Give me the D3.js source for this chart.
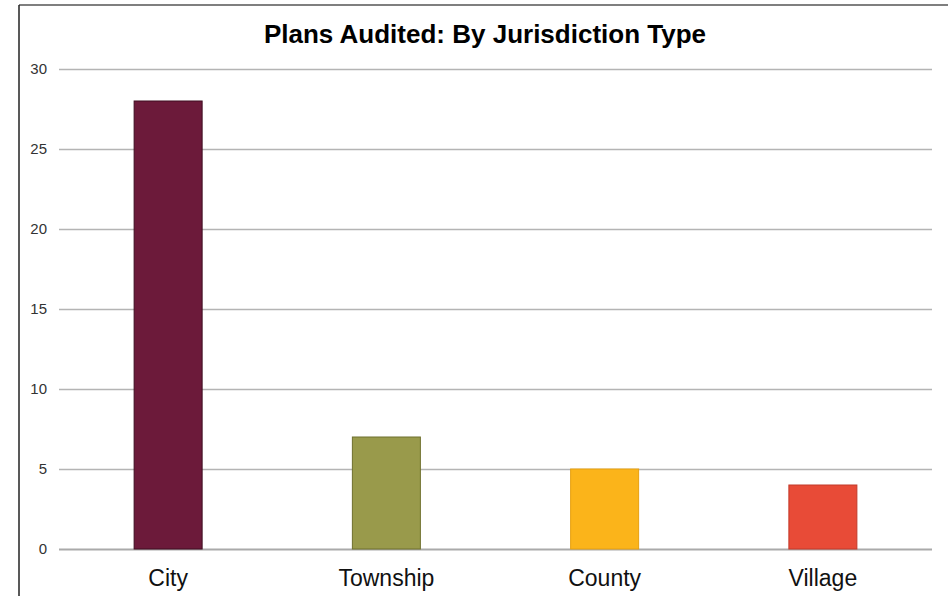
<!DOCTYPE html>
<html>
<head>
<meta charset="utf-8">
<script src="https://cdn.jsdelivr.net/npm/d3@7"></script>
<style>
	body { margin: 0; background: #fff; }
	#graphic { width: 948px; height: 596px; }
	.y.axis text { font-family: "Liberation Sans", Arial, sans-serif; font-size: 15px; fill: #333; }
	.x.axis text { font-family: "Liberation Sans", Arial, sans-serif; font-size: 23px; fill: #111; }
	.title { font-family: "Liberation Sans", Arial, sans-serif; font-size: 26px; font-weight: bold; fill: #000; }
</style>
</head>
<body>
<div id="graphic"></div>
<script>
const categories = ['City', 'Township', 'County', 'Village'];
const values = [28, 7, 5, 4];
const yTicks = [0, 5, 10, 15, 20, 25, 30];
const colours = ['#6c1a3a', '#999a4b', '#fbb41a', '#e84b37'];
const strokes = ['#3f0d20', '#6f702e', '#e6a010', '#c23a2a'];

const width = 948, height = 596;
const margin = { top: 69, right: 16, bottom: 47, left: 59 };
const chart_width = width - margin.left - margin.right;
const chart_height = height - margin.top - margin.bottom;

const svg = d3.select('#graphic')
	.append('svg')
	.attr('width', width)
	.attr('height', height);

// frame lines (top and left)
svg.append('line').attr('x1', 19).attr('x2', width).attr('y1', 5).attr('y2', 5)
	.attr('stroke', '#555').attr('stroke-width', 1.5);
svg.append('line').attr('x1', 19).attr('x2', 19).attr('y1', 5).attr('y2', height)
	.attr('stroke', '#222').attr('stroke-width', 1.5);

svg.append('text')
	.attr('class', 'title')
	.attr('x', 485)
	.attr('y', 43)
	.attr('text-anchor', 'middle')
	.text('Plans Audited: By Jurisdiction Type');

const g = svg.append('g').attr('transform', 'translate(' + margin.left + ',' + margin.top + ')');

const x = d3.scaleBand()
	.domain(categories)
	.range([0, chart_width])
	.padding(0);

const y = d3.scaleLinear()
	.domain([0, 30])
	.range([chart_height, 0]);

// y axis with gridlines
g.append('g')
	.attr('class', 'y axis')
	.call(d3.axisLeft(y).tickValues(yTicks).tickSize(-chart_width).tickPadding(12))
	.call(s => s.select('.domain').remove())
	.call(s => s.selectAll('line')
		.attr('stroke', d => d == 0 ? '#aaa' : '#b4b4b4')
		.attr('stroke-width', d => d == 0 ? 2 : 1.3));

const barWidth = 68;

// bars
g.append('g')
	.selectAll('rect')
	.data(values)
	.join('rect')
	.attr('x', (d, i) => x(categories[i]) + x.bandwidth() / 2 - barWidth / 2)
	.attr('y', d => y(d))
	.attr('width', barWidth)
	.attr('height', d => y(0) - y(d))
	.attr('fill', (d, i) => colours[i])
	.attr('stroke', (d, i) => strokes[i])
	.attr('stroke-width', 1);

// x axis labels
g.append('g')
	.attr('class', 'x axis')
	.attr('transform', 'translate(0,' + chart_height + ')')
	.call(d3.axisBottom(x).tickSize(0).tickPadding(21))
	.call(s => s.select('.domain').remove());
</script>
</body>
</html>
